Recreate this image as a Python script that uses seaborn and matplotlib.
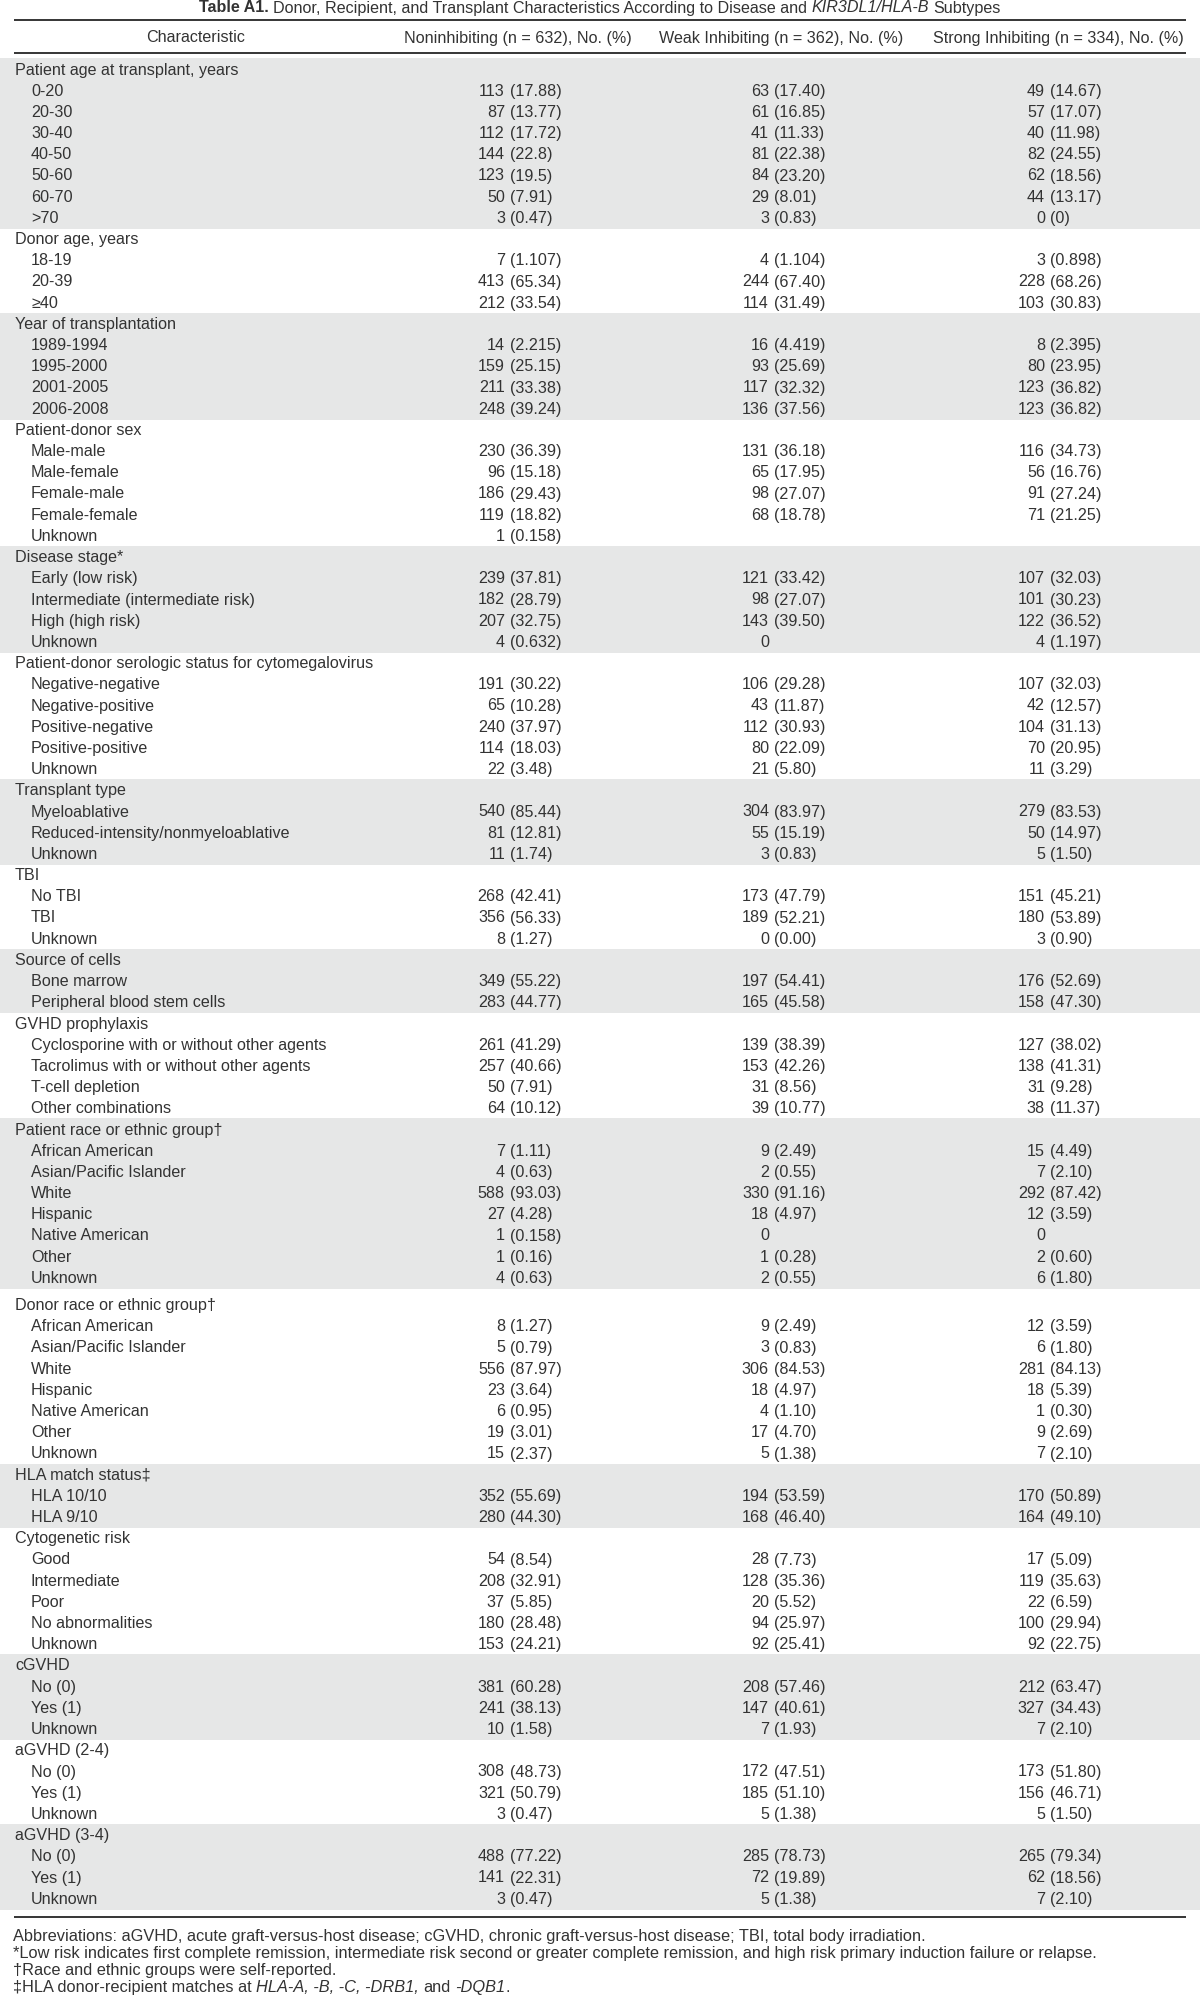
import matplotlib
matplotlib.use('Agg')
import matplotlib.pyplot as plt
import seaborn as sns

# ---------------- data ----------------
title_pieces = [("Table A1.", "normal", "bold"),
                (" Donor, Recipient, and Transplant Characteristics According to Disease and ", "normal", "normal"),
                ("KIR3DL1/HLA-B", "italic", "normal"),
                (" Subtypes", "normal", "normal")]

col_headers = ["Characteristic",
               "Noninhibiting (n = 632), No. (%)",
               "Weak Inhibiting (n = 362), No. (%)",
               "Strong Inhibiting (n = 334), No. (%)"]

group_names = [
    "Patient age at transplant, years",
    "Donor age, years",
    "Year of transplantation",
    "Patient-donor sex",
    "Disease stage*",
    "Patient-donor serologic status for cytomegalovirus",
    "Transplant type",
    "TBI",
    "Source of cells",
    "GVHD prophylaxis",
    "Patient race or ethnic group\u2020",
    "Donor race or ethnic group\u2020",
    "HLA match status\u2021",
    "Cytogenetic risk",
    "cGVHD",
    "aGVHD (2-4)",
    "aGVHD (3-4)",
]

item_labels = [
    ["0-20", "20-30", "30-40", "40-50", "50-60", "60-70", ">70"],
    ["18-19", "20-39", "\u226540"],
    ["1989-1994", "1995-2000", "2001-2005", "2006-2008"],
    ["Male-male", "Male-female", "Female-male", "Female-female", "Unknown"],
    ["Early (low risk)", "Intermediate (intermediate risk)", "High (high risk)", "Unknown"],
    ["Negative-negative", "Negative-positive", "Positive-negative", "Positive-positive", "Unknown"],
    ["Myeloablative", "Reduced-intensity/nonmyeloablative", "Unknown"],
    ["No TBI", "TBI", "Unknown"],
    ["Bone marrow", "Peripheral blood stem cells"],
    ["Cyclosporine with or without other agents", "Tacrolimus with or without other agents",
     "T-cell depletion", "Other combinations"],
    ["African American", "Asian/Pacific Islander", "White", "Hispanic", "Native American", "Other", "Unknown"],
    ["African American", "Asian/Pacific Islander", "White", "Hispanic", "Native American", "Other", "Unknown"],
    ["HLA 10/10", "HLA 9/10"],
    ["Good", "Intermediate", "Poor", "No abnormalities", "Unknown"],
    ["No (0)", "Yes (1)", "Unknown"],
    ["No (0)", "Yes (1)", "Unknown"],
    ["No (0)", "Yes (1)", "Unknown"],
]

noninhibiting = [
    ["113 (17.88)", "87 (13.77)", "112 (17.72)", "144 (22.8)", "123 (19.5)", "50 (7.91)", "3 (0.47)"],
    ["7 (1.107)", "413 (65.34)", "212 (33.54)"],
    ["14 (2.215)", "159 (25.15)", "211 (33.38)", "248 (39.24)"],
    ["230 (36.39)", "96 (15.18)", "186 (29.43)", "119 (18.82)", "1 (0.158)"],
    ["239 (37.81)", "182 (28.79)", "207 (32.75)", "4 (0.632)"],
    ["191 (30.22)", "65 (10.28)", "240 (37.97)", "114 (18.03)", "22 (3.48)"],
    ["540 (85.44)", "81 (12.81)", "11 (1.74)"],
    ["268 (42.41)", "356 (56.33)", "8 (1.27)"],
    ["349 (55.22)", "283 (44.77)"],
    ["261 (41.29)", "257 (40.66)", "50 (7.91)", "64 (10.12)"],
    ["7 (1.11)", "4 (0.63)", "588 (93.03)", "27 (4.28)", "1 (0.158)", "1 (0.16)", "4 (0.63)"],
    ["8 (1.27)", "5 (0.79)", "556 (87.97)", "23 (3.64)", "6 (0.95)", "19 (3.01)", "15 (2.37)"],
    ["352 (55.69)", "280 (44.30)"],
    ["54 (8.54)", "208 (32.91)", "37 (5.85)", "180 (28.48)", "153 (24.21)"],
    ["381 (60.28)", "241 (38.13)", "10 (1.58)"],
    ["308 (48.73)", "321 (50.79)", "3 (0.47)"],
    ["488 (77.22)", "141 (22.31)", "3 (0.47)"],
]

weak_inhibiting = [
    ["63 (17.40)", "61 (16.85)", "41 (11.33)", "81 (22.38)", "84 (23.20)", "29 (8.01)", "3 (0.83)"],
    ["4 (1.104)", "244 (67.40)", "114 (31.49)"],
    ["16 (4.419)", "93 (25.69)", "117 (32.32)", "136 (37.56)"],
    ["131 (36.18)", "65 (17.95)", "98 (27.07)", "68 (18.78)", ""],
    ["121 (33.42)", "98 (27.07)", "143 (39.50)", "0"],
    ["106 (29.28)", "43 (11.87)", "112 (30.93)", "80 (22.09)", "21 (5.80)"],
    ["304 (83.97)", "55 (15.19)", "3 (0.83)"],
    ["173 (47.79)", "189 (52.21)", "0 (0.00)"],
    ["197 (54.41)", "165 (45.58)"],
    ["139 (38.39)", "153 (42.26)", "31 (8.56)", "39 (10.77)"],
    ["9 (2.49)", "2 (0.55)", "330 (91.16)", "18 (4.97)", "0", "1 (0.28)", "2 (0.55)"],
    ["9 (2.49)", "3 (0.83)", "306 (84.53)", "18 (4.97)", "4 (1.10)", "17 (4.70)", "5 (1.38)"],
    ["194 (53.59)", "168 (46.40)"],
    ["28 (7.73)", "128 (35.36)", "20 (5.52)", "94 (25.97)", "92 (25.41)"],
    ["208 (57.46)", "147 (40.61)", "7 (1.93)"],
    ["172 (47.51)", "185 (51.10)", "5 (1.38)"],
    ["285 (78.73)", "72 (19.89)", "5 (1.38)"],
]

strong_inhibiting = [
    ["49 (14.67)", "57 (17.07)", "40 (11.98)", "82 (24.55)", "62 (18.56)", "44 (13.17)", "0 (0)"],
    ["3 (0.898)", "228 (68.26)", "103 (30.83)"],
    ["8 (2.395)", "80 (23.95)", "123 (36.82)", "123 (36.82)"],
    ["116 (34.73)", "56 (16.76)", "91 (27.24)", "71 (21.25)", ""],
    ["107 (32.03)", "101 (30.23)", "122 (36.52)", "4 (1.197)"],
    ["107 (32.03)", "42 (12.57)", "104 (31.13)", "70 (20.95)", "11 (3.29)"],
    ["279 (83.53)", "50 (14.97)", "5 (1.50)"],
    ["151 (45.21)", "180 (53.89)", "3 (0.90)"],
    ["176 (52.69)", "158 (47.30)"],
    ["127 (38.02)", "138 (41.31)", "31 (9.28)", "38 (11.37)"],
    ["15 (4.49)", "7 (2.10)", "292 (87.42)", "12 (3.59)", "0", "2 (0.60)", "6 (1.80)"],
    ["12 (3.59)", "6 (1.80)", "281 (84.13)", "18 (5.39)", "1 (0.30)", "9 (2.69)", "7 (2.10)"],
    ["170 (50.89)", "164 (49.10)"],
    ["17 (5.09)", "119 (35.63)", "22 (6.59)", "100 (29.94)", "92 (22.75)"],
    ["212 (63.47)", "327 (34.43)", "7 (2.10)"],
    ["173 (51.80)", "156 (46.71)", "5 (1.50)"],
    ["265 (79.34)", "62 (18.56)", "7 (2.10)"],
]

footnotes = [
    [("Abbreviations: aGVHD, acute graft-versus-host disease; cGVHD, chronic graft-versus-host disease; TBI, total body irradiation.", "normal")],
    [("*Low risk indicates first complete remission, intermediate risk second or greater complete remission, and high risk primary induction failure or relapse.", "normal")],
    [("\u2020Race and ethnic groups were self-reported.", "normal")],
    [("\u2021HLA donor-recipient matches at ", "normal"), ("HLA-A, -B, -C, -DRB1,", "italic"),
     (" and ", "normal"), ("-DQB1", "italic"), (".", "normal")],
]

# ---------------- style / layout ----------------
sns.set_theme(style="white")
plt.rcParams['font.family'] = ['Liberation Sans', 'DejaVu Sans']

W, H = 1200, 2000
TXT = "#333333"
BAND = "#e6e7e7"
LINE = "#3a3a3a"
FS = 11.6
FS_NOTE = 11.8

fig = plt.figure(figsize=(12, 20), dpi=100)
ax = fig.add_axes([0, 0, 1, 1])
ax.set_xlim(0, W)
ax.set_ylim(H, 0)
ax.axis('off')
renderer = fig.canvas.get_renderer()

rule_x0, rule_x1 = 14, 1186
lw_px = 2 * 72 / 100.0


def text_w(s, **kw):
    t = ax.text(0, 0, s, fontsize=kw.get('fontsize', FS), fontstyle=kw.get('fontstyle', 'normal'),
                fontweight=kw.get('fontweight', 'normal'))
    w = t.get_window_extent(renderer).width
    t.remove()
    return w


def draw_pieces(pieces, x, y, ha='left', fontsize=FS):
    sp = text_w("x x", fontsize=fontsize) - text_w("xx", fontsize=fontsize)
    objs = []
    total = 0.0
    prev_trail = False
    for s, style, weight in pieces:
        lead = s.startswith(' ')
        trail = s.endswith(' ')
        core = s.strip()
        gap = sp if (lead or prev_trail) and objs else 0.0
        t = ax.text(0, y, core, fontsize=fontsize, fontstyle=style, fontweight=weight,
                    va='center', ha='left', color=TXT)
        w = t.get_window_extent(renderer).width
        total += gap
        objs.append((t, total))
        total += w
        prev_trail = trail
    start = x - total / 2 if ha == 'center' else x
    for t, off in objs:
        t.set_x(start + off)


# title
draw_pieces(title_pieces, 600, 8, ha='center')
ax.hlines(20, rule_x0, rule_x1, color=LINE, lw=lw_px)

# header
hdr_centers = [196, 518, 781, 1058]
for cx, h in zip(hdr_centers, col_headers):
    ax.text(cx, 38, h, fontsize=FS, ha='center', va='center', color=TXT)
ax.hlines(53, rule_x0, rule_x1, color=LINE, lw=lw_px)

# body
y0 = 70.0
d = 21.2
extra_gap_before = 11
paren_x = [510, 774, 1050]
num_gap = 5
columns = [noninhibiting, weak_inhibiting, strong_inhibiting]

row = 0
extra = 0.0
last_y = y0
for g, name in enumerate(group_names):
    if g == extra_gap_before:
        extra += 6
    y_first = y0 + row * d + extra
    n_items = len(item_labels[g])
    y_last = y_first + n_items * d
    if g % 2 == 0:
        ax.axhspan(y_first - d / 2 - 1, y_last + d / 2, color=BAND, lw=0, zorder=0)
    ax.text(15, y_first, name, fontsize=FS, ha='left', va='center', color=TXT)
    for i, lab in enumerate(item_labels[g]):
        y = y_first + (i + 1) * d
        ax.text(31, y, lab, fontsize=FS, ha='left', va='center', color=TXT)
        for c, col in enumerate(columns):
            val = col[g][i]
            if not val:
                continue
            parts = val.split(' ', 1)
            ax.text(paren_x[c] - num_gap, y, parts[0], fontsize=FS, ha='right', va='center', color=TXT)
            if len(parts) > 1:
                ax.text(paren_x[c], y, parts[1], fontsize=FS, ha='left', va='center', color=TXT)
    row += n_items + 1
    last_y = y_last

bottom_rule = last_y + d / 2 + 7
ax.hlines(bottom_rule, rule_x0, rule_x1, color=LINE, lw=lw_px)

# footnotes
fy = bottom_rule + 20
for k, line in enumerate(footnotes):
    draw_pieces([(s, st, 'normal') for s, st in line], 13, fy + k * 17, fontsize=FS_NOTE)

fig.savefig("out.png", dpi=100)
